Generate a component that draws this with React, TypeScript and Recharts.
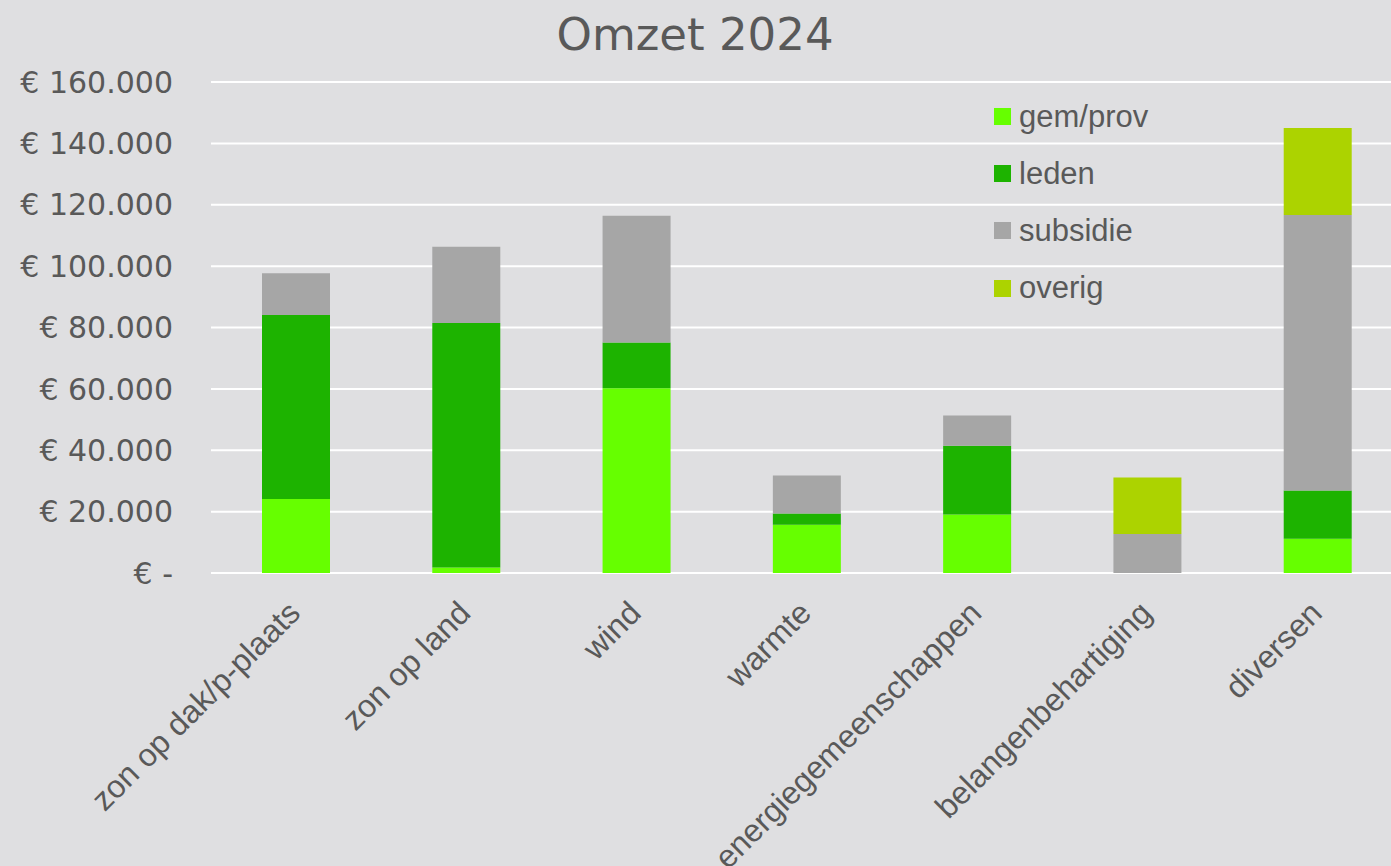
import { BarChart, Bar, XAxis, YAxis, CartesianGrid, Legend } from 'recharts'

const categories = [
  'zon op dak/p-plaats',
  'zon op land',
  'wind',
  'warmte',
  'energiegemeenschappen',
  'belangenbehartiging',
  'diversen',
]
const gemProv = [24100, 1800, 60200, 15700, 19100, 0, 11200]
const leden = [60000, 79700, 14900, 3700, 22400, 0, 15700]
const subsidie = [13600, 24800, 41300, 12400, 9800, 12700, 89800]
const overig = [0, 0, 0, 0, 0, 18400, 28300]
const yTicks = [0, 20000, 40000, 60000, 80000, 100000, 120000, 140000, 160000]

const series = [
  { key: 'gem/prov', color: '#66ff00' },
  { key: 'leden', color: '#1db300' },
  { key: 'subsidie', color: '#a6a6a6' },
  { key: 'overig', color: '#acd300' },
]

const data = categories.map((name, i) => ({
  name,
  'gem/prov': gemProv[i],
  leden: leden[i],
  subsidie: subsidie[i],
  overig: overig[i],
}))

const TEXT = '#595959'
const BG = '#dfdfe1'

const euro = (v: number) =>
  v === 0 ? '€ -' : '€ ' + String(v).replace(/\B(?=(\d{3})+(?!\d))/g, '.')

const CategoryTick = ({ x, y, payload }: any) => (
  <g transform={`translate(${x + 6}, ${y + 4})`}>
    <text
      transform="rotate(-45)"
      textAnchor="end"
      fill={TEXT}
      fontSize={32}
      fontFamily="'Liberation Sans', Arial, sans-serif"
    >
      {payload.value}
    </text>
  </g>
)

// keep the legend in series order (recharts sorts it otherwise)
const LegendBox = ({ payload }: any) => {
  const items = series
    .map(s => payload?.find((p: any) => p.dataKey === s.key || p.value === s.key))
    .filter(Boolean)
  return (
    <div style={{ fontFamily: "'Liberation Sans', Arial, sans-serif", fontSize: 31, color: TEXT }}>
      {items.map((p: any) => (
        <div key={p.value} style={{ height: 57.2, display: 'flex', alignItems: 'center' }}>
          <span style={{ width: 17, height: 17, background: p.color, marginRight: 8, display: 'inline-block' }} />
          <span>{p.value}</span>
        </div>
      ))}
    </div>
  )
}

export default function App() {
  return (
    <div style={{ position: 'fixed', left: 0, top: 0, width: 1391, height: 866, overflow: 'hidden', background: BG }}>
      <svg width={1391} height={866} style={{ position: 'absolute', left: 0, top: 0, pointerEvents: 'none' }}>
        <text x={695} y={50} textAnchor="middle" fill={TEXT} fontSize={45} fontFamily="'DejaVu Sans', sans-serif">
          Omzet 2024
        </text>
      </svg>
      <BarChart
        width={1403}
        height={866}
        data={data}
        margin={{ top: 82, right: 0, bottom: 0, left: 0 }}
        barSize={68}
        style={{ position: 'absolute', left: 0, top: 0 }}
      >
        <CartesianGrid vertical={false} stroke="#ffffff" strokeWidth={2} />
        <XAxis
          dataKey="name"
          height={293}
          axisLine={false}
          tickLine={false}
          tickSize={0}
          tickMargin={38}
          interval={0}
          tick={<CategoryTick />}
        />
        <YAxis
          width={211}
          domain={[0, 160000]}
          ticks={yTicks}
          tickFormatter={euro}
          axisLine={false}
          tickLine={false}
          tickSize={0}
          tickMargin={38}
          tick={{ fill: TEXT, fontSize: 30, fontFamily: "'DejaVu Sans', sans-serif" }}
        />
        <Legend
          layout="vertical"
          align="center"
          verticalAlign="middle"
          wrapperStyle={{ left: 994, top: 88, width: 240 }}
          content={<LegendBox />}
        />
        {series.map(s => (
          <Bar
            key={s.key}
            dataKey={s.key}
            stackId="a"
            fill={s.color}
            isAnimationActive={false}
          />
        ))}
      </BarChart>
    </div>
  )
}
